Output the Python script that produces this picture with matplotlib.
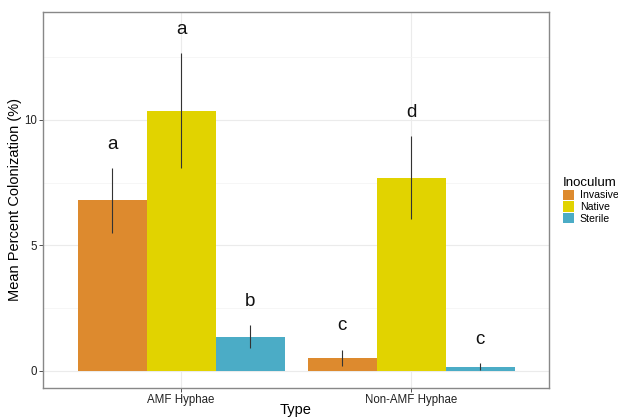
import numpy as np
import matplotlib
matplotlib.use('Agg')
from matplotlib import pyplot as plt
from matplotlib.patches import Patch

plt.rcParams['font.family'] = ['Liberation Sans', 'DejaVu Sans']

types = ['AMF Hyphae', 'Non-AMF Hyphae']
inoculum = ['Invasive', 'Native', 'Sterile']
colors = ['#DD8A2E', '#E1D300', '#4BACC6']
# mean colonization (%) per inoculum, one value per type
means = {
    'Invasive': [6.81, 0.52],
    'Native': [10.36, 7.69],
    'Sterile': [1.35, 0.16],
}
lower = {
    'Invasive': [5.50, 0.20],
    'Native': [8.09, 6.06],
    'Sterile': [0.92, 0.02],
}
upper = {
    'Invasive': [8.09, 0.84],
    'Native': [12.67, 9.36],
    'Sterile': [1.83, 0.32],
}
letters = {
    'Invasive': ['a', 'c'],
    'Native': ['a', 'd'],
    'Sterile': ['b', 'c'],
}

fig = plt.figure(figsize=(6.18, 4.18), dpi=100)
ax = fig.add_axes([0.0696, 0.0718, 0.8188, 0.8995])

x = np.arange(len(types))
w = 0.3
for i, name in enumerate(inoculum):
    pos = x + (i - 1) * w
    ax.bar(pos, means[name], width=w, color=colors[i], zorder=2)
    ax.vlines(pos, lower[name], upper[name], color='#333333', lw=0.8, zorder=3)
    for p, u, lab in zip(pos, upper[name], letters[name]):
        ax.text(p, u + 0.95, lab, ha='center', va='center', fontsize=13.5,
                color='#111111')

ax.set_xlim(-0.6, 1.6)
ax.set_ylim(-0.68, 14.3)
ax.set_xticks(x)
ax.set_xticklabels(types, fontsize=8.3, color='#222222')
ax.set_yticks([0, 5, 10])
ax.set_yticklabels(['0', '5', '10'], fontsize=8.3, color='#222222')
ax.set_yticks([2.5, 7.5, 12.5], minor=True)
ax.tick_params(axis='both', length=3, color='#333333', width=0.6, pad=1.5)
ax.tick_params(axis='y', which='minor', length=0)
ax.grid(which='major', color='#EBEBEB', lw=0.8, zorder=0)
ax.grid(which='minor', axis='y', color='#F3F3F3', lw=0.5, zorder=0)
ax.set_axisbelow(True)
for s in ax.spines.values():
    s.set_color('#888888')
    s.set_linewidth(1.0)

ax.set_xlabel('Type', fontsize=10.5)
ax.xaxis.set_label_coords(0.5, -0.04)
ax.set_ylabel('Mean Percent Colonization (%)', fontsize=10.5)
ax.yaxis.set_label_coords(-0.041, 0.5)

handles = [Patch(facecolor=c, edgecolor='none') for c in colors]
leg = fig.legend(handles, inoculum, title='Inoculum', loc='upper left',
                 bbox_to_anchor=(0.899, 0.595), frameon=False, fontsize=7.6,
                 title_fontsize=9.5, handlelength=1.0, handleheight=1.1,
                 handletextpad=0.6, labelspacing=0.1, borderpad=0.2)
leg._legend_box.align = 'left'

fig.savefig('out.png', dpi=100)
